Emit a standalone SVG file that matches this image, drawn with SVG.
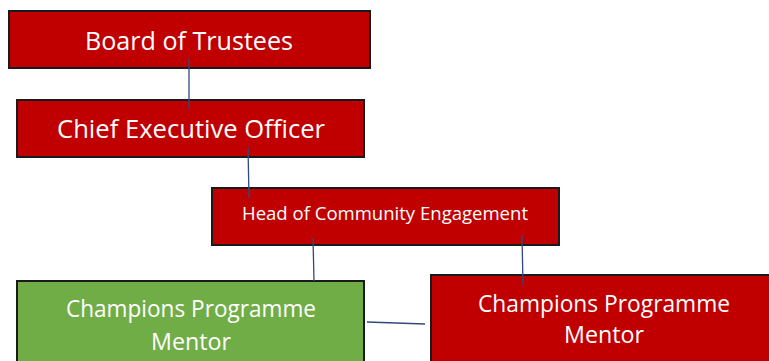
<svg xmlns="http://www.w3.org/2000/svg" width="769" height="361" viewBox="0 0 769 361">
<style>
.box{stroke:#1a1a1a;stroke-width:2}
.red{fill:#c00000}
.green{fill:#70ad47}
.t{fill:#ffffff;font-family:"Open Sans","Liberation Sans",sans-serif;text-anchor:middle}
.c{stroke:#2f4a7a;stroke-width:1.3;fill:none}
</style>
<rect width="769" height="361" fill="#ffffff"/>
<g id="board">
<rect class="box red" x="9" y="11" width="361" height="57"/>
<text class="t" x="189" y="50" font-size="25" textLength="208" lengthAdjust="spacingAndGlyphs">Board of Trustees</text>
</g>
<g id="ceo">
<rect class="box red" x="17" y="100" width="347" height="57"/>
<text class="t" x="191" y="138" font-size="25" textLength="268" lengthAdjust="spacingAndGlyphs">Chief Executive Officer</text>
</g>
<g id="head">
<rect class="box red" x="212" y="188" width="347" height="57"/>
<text class="t" x="385" y="220" font-size="18" textLength="286" lengthAdjust="spacingAndGlyphs">Head of Community Engagement</text>
</g>
<g id="mentor-green">
<rect class="box green" x="17" y="281" width="347" height="82"/>
<text class="t" x="191" y="317" font-size="24" textLength="250" lengthAdjust="spacingAndGlyphs">Champions Programme</text>
<text class="t" x="191" y="350" font-size="24" textLength="80" lengthAdjust="spacingAndGlyphs">Mentor</text>
</g>
<g id="mentor-red">
<rect class="box red" x="431" y="275" width="345" height="90"/>
<text class="t" x="604" y="312" font-size="24" textLength="252" lengthAdjust="spacingAndGlyphs">Champions Programme</text>
<text class="t" x="604" y="343" font-size="24" textLength="80" lengthAdjust="spacingAndGlyphs">Mentor</text>
</g>
<g id="connectors">
<line class="c" x1="189" y1="58" x2="189" y2="109"/>
<line class="c" x1="248" y1="147" x2="249" y2="198"/>
<line class="c" x1="313" y1="238" x2="314" y2="281"/>
<line class="c" x1="522" y1="235" x2="523" y2="285"/>
<line class="c" x1="367" y1="322" x2="425" y2="324"/>
</g>
</svg>
